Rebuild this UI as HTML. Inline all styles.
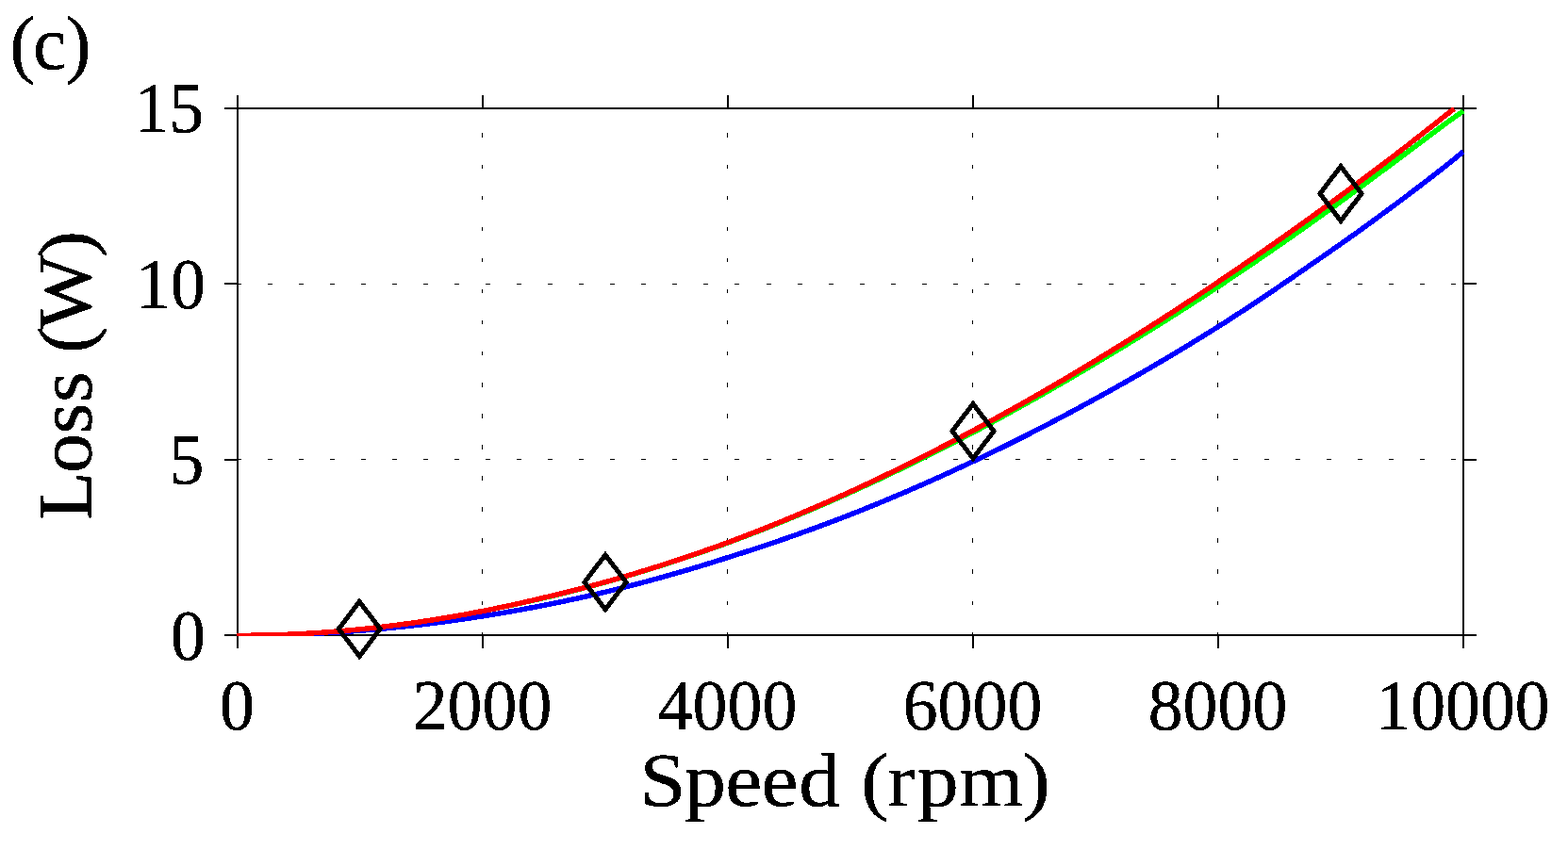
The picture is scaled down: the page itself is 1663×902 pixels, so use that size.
<!DOCTYPE html>
<html lang="en"><head><meta charset="utf-8"><title>Loss vs Speed (c)</title>
<style>
html,body{margin:0;padding:0;background:#fff;}
body{width:1663px;height:902px;overflow:hidden;}
svg{display:block;}
text{font-family:"Liberation Serif",serif;fill:#000;}
.tick{font-size:75.6px;}
.lab{font-size:80px;}
</style></head><body>
<svg width="1663" height="902" viewBox="0 0 1663 902">
<rect x="0" y="0" width="1663" height="902" fill="#fff"/>
<g shape-rendering="crispEdges" fill="#000">
<rect x="511" y="671" width="1" height="2"/>
<rect x="511" y="638" width="1" height="4"/>
<rect x="511" y="604" width="1" height="5"/>
<rect x="511" y="571" width="1" height="5"/>
<rect x="511" y="538" width="1" height="5"/>
<rect x="511" y="505" width="1" height="5"/>
<rect x="511" y="472" width="1" height="5"/>
<rect x="511" y="439" width="1" height="5"/>
<rect x="511" y="406" width="1" height="5"/>
<rect x="511" y="373" width="1" height="4"/>
<rect x="511" y="340" width="1" height="4"/>
<rect x="511" y="307" width="1" height="4"/>
<rect x="511" y="274" width="1" height="4"/>
<rect x="511" y="241" width="1" height="4"/>
<rect x="511" y="208" width="1" height="4"/>
<rect x="511" y="175" width="1" height="4"/>
<rect x="511" y="141" width="1" height="5"/>
<rect x="771" y="671" width="1" height="2"/>
<rect x="771" y="638" width="1" height="4"/>
<rect x="771" y="604" width="1" height="5"/>
<rect x="771" y="571" width="1" height="5"/>
<rect x="771" y="538" width="1" height="5"/>
<rect x="771" y="505" width="1" height="5"/>
<rect x="771" y="472" width="1" height="5"/>
<rect x="771" y="439" width="1" height="5"/>
<rect x="771" y="406" width="1" height="5"/>
<rect x="771" y="373" width="1" height="4"/>
<rect x="771" y="340" width="1" height="4"/>
<rect x="771" y="307" width="1" height="4"/>
<rect x="771" y="274" width="1" height="4"/>
<rect x="771" y="241" width="1" height="4"/>
<rect x="771" y="208" width="1" height="4"/>
<rect x="771" y="175" width="1" height="4"/>
<rect x="771" y="141" width="1" height="5"/>
<rect x="1031" y="671" width="1" height="2"/>
<rect x="1031" y="638" width="1" height="4"/>
<rect x="1031" y="604" width="1" height="5"/>
<rect x="1031" y="571" width="1" height="5"/>
<rect x="1031" y="538" width="1" height="5"/>
<rect x="1031" y="505" width="1" height="5"/>
<rect x="1031" y="472" width="1" height="5"/>
<rect x="1031" y="439" width="1" height="5"/>
<rect x="1031" y="406" width="1" height="5"/>
<rect x="1031" y="373" width="1" height="4"/>
<rect x="1031" y="340" width="1" height="4"/>
<rect x="1031" y="307" width="1" height="4"/>
<rect x="1031" y="274" width="1" height="4"/>
<rect x="1031" y="241" width="1" height="4"/>
<rect x="1031" y="208" width="1" height="4"/>
<rect x="1031" y="175" width="1" height="4"/>
<rect x="1031" y="141" width="1" height="5"/>
<rect x="1291" y="671" width="1" height="2"/>
<rect x="1291" y="638" width="1" height="4"/>
<rect x="1291" y="604" width="1" height="5"/>
<rect x="1291" y="571" width="1" height="5"/>
<rect x="1291" y="538" width="1" height="5"/>
<rect x="1291" y="505" width="1" height="5"/>
<rect x="1291" y="472" width="1" height="5"/>
<rect x="1291" y="439" width="1" height="5"/>
<rect x="1291" y="406" width="1" height="5"/>
<rect x="1291" y="373" width="1" height="4"/>
<rect x="1291" y="340" width="1" height="4"/>
<rect x="1291" y="307" width="1" height="4"/>
<rect x="1291" y="274" width="1" height="4"/>
<rect x="1291" y="241" width="1" height="4"/>
<rect x="1291" y="208" width="1" height="4"/>
<rect x="1291" y="175" width="1" height="4"/>
<rect x="1291" y="141" width="1" height="5"/>
<rect x="251" y="487" width="5" height="1"/>
<rect x="284" y="487" width="5" height="1"/>
<rect x="317" y="487" width="5" height="1"/>
<rect x="350" y="487" width="5" height="1"/>
<rect x="383" y="487" width="5" height="1"/>
<rect x="416" y="487" width="5" height="1"/>
<rect x="449" y="487" width="5" height="1"/>
<rect x="482" y="487" width="5" height="1"/>
<rect x="515" y="487" width="5" height="1"/>
<rect x="548" y="487" width="5" height="1"/>
<rect x="581" y="487" width="5" height="1"/>
<rect x="614" y="487" width="5" height="1"/>
<rect x="647" y="487" width="5" height="1"/>
<rect x="680" y="487" width="5" height="1"/>
<rect x="713" y="487" width="5" height="1"/>
<rect x="746" y="487" width="5" height="1"/>
<rect x="779" y="487" width="5" height="1"/>
<rect x="813" y="487" width="5" height="1"/>
<rect x="846" y="487" width="5" height="1"/>
<rect x="879" y="487" width="5" height="1"/>
<rect x="912" y="487" width="5" height="1"/>
<rect x="945" y="487" width="5" height="1"/>
<rect x="978" y="487" width="5" height="1"/>
<rect x="1011" y="487" width="5" height="1"/>
<rect x="1044" y="487" width="5" height="1"/>
<rect x="1077" y="487" width="5" height="1"/>
<rect x="1110" y="487" width="5" height="1"/>
<rect x="1143" y="487" width="5" height="1"/>
<rect x="1176" y="487" width="5" height="1"/>
<rect x="1209" y="487" width="5" height="1"/>
<rect x="1242" y="487" width="5" height="1"/>
<rect x="1275" y="487" width="5" height="1"/>
<rect x="1308" y="487" width="5" height="1"/>
<rect x="1341" y="487" width="5" height="1"/>
<rect x="1374" y="487" width="5" height="1"/>
<rect x="1407" y="487" width="5" height="1"/>
<rect x="1440" y="487" width="5" height="1"/>
<rect x="1473" y="487" width="5" height="1"/>
<rect x="1506" y="487" width="5" height="1"/>
<rect x="1539" y="487" width="5" height="1"/>
<rect x="251" y="301" width="5" height="1"/>
<rect x="284" y="301" width="5" height="1"/>
<rect x="317" y="301" width="5" height="1"/>
<rect x="350" y="301" width="5" height="1"/>
<rect x="383" y="301" width="5" height="1"/>
<rect x="416" y="301" width="5" height="1"/>
<rect x="449" y="301" width="5" height="1"/>
<rect x="482" y="301" width="5" height="1"/>
<rect x="515" y="301" width="5" height="1"/>
<rect x="548" y="301" width="5" height="1"/>
<rect x="581" y="301" width="5" height="1"/>
<rect x="614" y="301" width="5" height="1"/>
<rect x="647" y="301" width="5" height="1"/>
<rect x="680" y="301" width="5" height="1"/>
<rect x="713" y="301" width="5" height="1"/>
<rect x="746" y="301" width="5" height="1"/>
<rect x="779" y="301" width="5" height="1"/>
<rect x="813" y="301" width="5" height="1"/>
<rect x="846" y="301" width="5" height="1"/>
<rect x="879" y="301" width="5" height="1"/>
<rect x="912" y="301" width="5" height="1"/>
<rect x="945" y="301" width="5" height="1"/>
<rect x="978" y="301" width="5" height="1"/>
<rect x="1011" y="301" width="5" height="1"/>
<rect x="1044" y="301" width="5" height="1"/>
<rect x="1077" y="301" width="5" height="1"/>
<rect x="1110" y="301" width="5" height="1"/>
<rect x="1143" y="301" width="5" height="1"/>
<rect x="1176" y="301" width="5" height="1"/>
<rect x="1209" y="301" width="5" height="1"/>
<rect x="1242" y="301" width="5" height="1"/>
<rect x="1275" y="301" width="5" height="1"/>
<rect x="1308" y="301" width="5" height="1"/>
<rect x="1341" y="301" width="5" height="1"/>
<rect x="1374" y="301" width="5" height="1"/>
<rect x="1407" y="301" width="5" height="1"/>
<rect x="1440" y="301" width="5" height="1"/>
<rect x="1473" y="301" width="5" height="1"/>
<rect x="1506" y="301" width="5" height="1"/>
<rect x="1539" y="301" width="5" height="1"/>
<rect x="238" y="114" width="1328" height="2"/>
<rect x="238" y="673" width="1328" height="2"/>
<rect x="251" y="101" width="2" height="587"/>
<rect x="1551" y="101" width="2" height="587"/>
<rect x="511" y="101" width="2" height="13"/>
<rect x="511" y="675" width="2" height="13"/>
<rect x="771" y="101" width="2" height="13"/>
<rect x="771" y="675" width="2" height="13"/>
<rect x="1031" y="101" width="2" height="13"/>
<rect x="1031" y="675" width="2" height="13"/>
<rect x="1291" y="101" width="2" height="13"/>
<rect x="1291" y="675" width="2" height="13"/>
<rect x="238" y="487" width="13" height="2"/>
<rect x="1553" y="487" width="13" height="2"/>
<rect x="238" y="300" width="13" height="2"/>
<rect x="1553" y="300" width="13" height="2"/>
</g>
<defs><clipPath id="cp"><rect x="251" y="114" width="1302" height="561"/></clipPath></defs>
<g clip-path="url(#cp)" fill="none" stroke-width="5.5" stroke-linejoin="round" shape-rendering="crispEdges">
<path stroke="#0000ff" d="M251.00,674.35 L252.00,674.35 L258.50,674.34 L265.00,674.30 L271.50,674.23 L278.00,674.15 L284.50,674.03 L291.00,673.89 L297.50,673.72 L304.00,673.53 L310.50,673.31 L317.00,673.07 L323.50,672.80 L330.00,672.51 L336.50,672.19 L343.00,671.84 L349.50,671.47 L356.00,671.07 L362.50,670.65 L369.00,670.20 L375.50,669.73 L382.00,669.23 L388.50,668.70 L395.00,668.15 L401.50,667.57 L408.00,666.97 L414.50,666.34 L421.00,665.69 L427.50,665.01 L434.00,664.31 L440.50,663.58 L447.00,662.82 L453.50,662.04 L460.00,661.23 L466.50,660.40 L473.00,659.54 L479.50,658.66 L486.00,657.75 L492.50,656.81 L499.00,655.85 L505.50,654.87 L512.00,653.85 L518.50,652.82 L525.00,651.75 L531.50,650.66 L538.00,649.55 L544.50,648.41 L551.00,647.24 L557.50,646.05 L564.00,644.83 L570.50,643.59 L577.00,642.32 L583.50,641.03 L590.00,639.71 L596.50,638.37 L603.00,636.99 L609.50,635.60 L616.00,634.18 L622.50,632.73 L629.00,631.26 L635.50,629.76 L642.00,628.23 L648.50,626.64 L655.00,625.03 L661.50,623.39 L668.00,621.72 L674.50,620.03 L681.00,618.31 L687.50,616.56 L694.00,614.79 L700.50,613.00 L707.00,611.18 L713.50,609.33 L720.00,607.46 L726.50,605.56 L733.00,603.64 L739.50,601.69 L746.00,599.72 L752.50,597.72 L759.00,595.69 L765.50,593.64 L772.00,591.56 L778.50,589.53 L785.00,587.47 L791.50,585.39 L798.00,583.28 L804.50,581.14 L811.00,578.98 L817.50,576.80 L824.00,574.59 L830.50,572.35 L837.00,570.09 L843.50,567.80 L850.00,565.48 L856.50,563.14 L863.00,560.78 L869.50,558.39 L876.00,555.97 L882.50,553.53 L889.00,551.06 L895.50,548.57 L902.00,546.05 L908.50,543.47 L915.00,540.87 L921.50,538.24 L928.00,535.59 L934.50,532.92 L941.00,530.21 L947.50,527.48 L954.00,524.73 L960.50,521.95 L967.00,519.14 L973.50,516.31 L980.00,513.46 L986.50,510.57 L993.00,507.67 L999.50,504.73 L1006.00,501.77 L1012.50,498.79 L1019.00,495.78 L1025.50,492.74 L1032.00,489.68 L1038.50,486.59 L1045.00,483.48 L1051.50,480.34 L1058.00,477.18 L1064.50,473.99 L1071.00,470.77 L1077.50,467.53 L1084.00,464.26 L1090.50,460.97 L1097.00,457.65 L1103.50,454.31 L1110.00,450.94 L1116.50,447.55 L1123.00,444.13 L1129.50,440.68 L1136.00,437.21 L1142.50,433.71 L1149.00,430.19 L1155.50,426.64 L1162.00,423.07 L1168.50,419.49 L1175.00,415.89 L1181.50,412.26 L1188.00,408.61 L1194.50,404.94 L1201.00,401.23 L1207.50,397.50 L1214.00,393.75 L1220.50,389.97 L1227.00,386.17 L1233.50,382.33 L1240.00,378.48 L1246.50,374.60 L1253.00,370.69 L1259.50,366.75 L1266.00,362.80 L1272.50,358.81 L1279.00,354.80 L1285.50,350.76 L1292.00,346.70 L1298.50,342.53 L1305.00,338.34 L1311.50,334.11 L1318.00,329.87 L1324.50,325.59 L1331.00,321.30 L1337.50,316.97 L1344.00,312.62 L1350.50,308.25 L1357.00,303.84 L1363.50,299.42 L1370.00,294.96 L1376.50,290.49 L1383.00,285.98 L1389.50,281.45 L1396.00,276.96 L1402.50,272.48 L1409.00,267.97 L1415.50,263.44 L1422.00,258.88 L1428.50,254.30 L1435.00,249.69 L1441.50,245.04 L1448.00,240.34 L1454.50,235.61 L1461.00,230.86 L1467.50,226.08 L1474.00,221.28 L1480.50,216.45 L1487.00,211.59 L1493.50,206.70 L1500.00,201.78 L1506.50,196.83 L1513.00,191.86 L1519.50,186.86 L1526.00,181.83 L1532.50,176.72 L1539.00,171.48 L1545.50,166.22 L1552.00,160.93"/>
<path stroke="#00ff00" d="M251.00,674.35 L252.00,674.35 L258.50,674.33 L265.00,674.28 L271.50,674.20 L278.00,674.08 L284.50,673.93 L291.00,673.75 L297.50,673.54 L304.00,673.29 L310.50,673.01 L317.00,672.69 L323.50,672.35 L330.00,671.97 L336.50,671.56 L343.00,671.11 L349.50,670.63 L356.00,670.13 L362.50,669.59 L369.00,669.01 L375.50,668.41 L382.00,667.77 L388.50,667.10 L395.00,666.40 L401.50,665.67 L408.00,664.91 L414.50,664.11 L421.00,663.28 L427.50,662.42 L434.00,661.53 L440.50,660.61 L447.00,659.66 L453.50,658.68 L460.00,657.66 L466.50,656.62 L473.00,655.54 L479.50,654.43 L486.00,653.30 L492.50,652.13 L499.00,650.93 L505.50,649.70 L512.00,648.44 L518.50,647.15 L525.00,645.83 L531.50,644.49 L538.00,643.12 L544.50,641.74 L551.00,640.33 L557.50,638.89 L564.00,637.44 L570.50,635.96 L577.00,634.46 L583.50,632.94 L590.00,631.37 L596.50,629.78 L603.00,628.16 L609.50,626.51 L616.00,624.82 L622.50,623.12 L629.00,621.38 L635.50,619.61 L642.00,617.82 L648.50,615.99 L655.00,614.13 L661.50,612.25 L668.00,610.33 L674.50,608.39 L681.00,606.42 L687.50,604.42 L694.00,602.40 L700.50,600.35 L707.00,598.27 L713.50,596.16 L720.00,594.02 L726.50,591.86 L733.00,589.67 L739.50,587.45 L746.00,585.21 L752.50,582.94 L759.00,580.64 L765.50,578.32 L772.00,575.97 L778.50,573.54 L785.00,571.09 L791.50,568.62 L798.00,566.11 L804.50,563.58 L811.00,561.03 L817.50,558.45 L824.00,555.84 L830.50,553.21 L837.00,550.55 L843.50,547.86 L850.00,545.15 L856.50,542.41 L863.00,539.65 L869.50,536.87 L876.00,534.05 L882.50,531.21 L889.00,528.35 L895.50,525.46 L902.00,522.55 L908.50,519.60 L915.00,516.63 L921.50,513.63 L928.00,510.61 L934.50,507.56 L941.00,504.49 L947.50,501.39 L954.00,498.27 L960.50,495.13 L967.00,491.96 L973.50,488.76 L980.00,485.55 L986.50,482.31 L993.00,479.04 L999.50,475.75 L1006.00,472.44 L1012.50,469.10 L1019.00,465.74 L1025.50,462.36 L1032.00,458.96 L1038.50,455.50 L1045.00,452.01 L1051.50,448.51 L1058.00,444.98 L1064.50,441.43 L1071.00,437.86 L1077.50,434.26 L1084.00,430.64 L1090.50,427.00 L1097.00,423.34 L1103.50,419.65 L1110.00,415.94 L1116.50,412.21 L1123.00,408.46 L1129.50,404.68 L1136.00,400.88 L1142.50,397.07 L1149.00,393.23 L1155.50,389.36 L1162.00,385.48 L1168.50,381.61 L1175.00,377.73 L1181.50,373.82 L1188.00,369.89 L1194.50,365.94 L1201.00,361.97 L1207.50,357.98 L1214.00,353.96 L1220.50,349.93 L1227.00,345.88 L1233.50,341.80 L1240.00,337.70 L1246.50,333.59 L1253.00,329.45 L1259.50,325.30 L1266.00,321.12 L1272.50,316.92 L1279.00,312.70 L1285.50,308.47 L1292.00,304.21 L1298.50,299.88 L1305.00,295.53 L1311.50,291.16 L1318.00,286.77 L1324.50,282.36 L1331.00,277.93 L1337.50,273.48 L1344.00,269.02 L1350.50,264.53 L1357.00,260.03 L1363.50,255.50 L1370.00,250.96 L1376.50,246.40 L1383.00,241.82 L1389.50,237.22 L1396.00,232.61 L1402.50,227.96 L1409.00,223.28 L1415.50,218.58 L1422.00,213.86 L1428.50,209.13 L1435.00,204.37 L1441.50,199.60 L1448.00,194.81 L1454.50,190.00 L1461.00,185.18 L1467.50,180.34 L1474.00,175.48 L1480.50,170.60 L1487.00,165.71 L1493.50,160.88 L1500.00,156.03 L1506.50,151.17 L1513.00,146.29 L1519.50,141.39 L1526.00,136.48 L1532.50,131.66 L1539.00,127.02 L1545.50,122.36 L1552.00,117.66"/>
<path stroke="#ff0000" d="M251.00,674.35 L252.00,674.35 L258.50,674.33 L265.00,674.28 L271.50,674.20 L278.00,674.08 L284.50,673.93 L291.00,673.75 L297.50,673.54 L304.00,673.29 L310.50,673.01 L317.00,672.69 L323.50,672.35 L330.00,671.97 L336.50,671.56 L343.00,671.11 L349.50,670.63 L356.00,670.13 L362.50,669.59 L369.00,669.01 L375.50,668.41 L382.00,667.77 L388.50,667.10 L395.00,666.40 L401.50,665.67 L408.00,664.91 L414.50,664.11 L421.00,663.28 L427.50,662.42 L434.00,661.53 L440.50,660.61 L447.00,659.66 L453.50,658.68 L460.00,657.66 L466.50,656.62 L473.00,655.54 L479.50,654.43 L486.00,653.30 L492.50,652.13 L499.00,650.93 L505.50,649.70 L512.00,648.44 L518.50,647.15 L525.00,645.83 L531.50,644.48 L538.00,643.09 L544.50,641.68 L551.00,640.24 L557.50,638.77 L564.00,637.27 L570.50,635.74 L577.00,634.18 L583.50,632.66 L590.00,631.11 L596.50,629.53 L603.00,627.92 L609.50,626.29 L616.00,624.62 L622.50,622.92 L629.00,621.20 L635.50,619.44 L642.00,617.66 L648.50,615.83 L655.00,613.97 L661.50,612.08 L668.00,610.16 L674.50,608.21 L681.00,606.24 L687.50,604.24 L694.00,602.20 L700.50,600.14 L707.00,598.06 L713.50,595.94 L720.00,593.80 L726.50,591.62 L733.00,589.42 L739.50,587.20 L746.00,584.94 L752.50,582.66 L759.00,580.35 L765.50,578.01 L772.00,575.64 L778.50,573.20 L785.00,570.73 L791.50,568.23 L798.00,565.71 L804.50,563.16 L811.00,560.58 L817.50,557.97 L824.00,555.34 L830.50,552.68 L837.00,550.00 L843.50,547.29 L850.00,544.55 L856.50,541.78 L863.00,538.99 L869.50,536.17 L876.00,533.33 L882.50,530.46 L889.00,527.57 L895.50,524.64 L902.00,521.70 L908.50,518.70 L915.00,515.67 L921.50,512.62 L928.00,509.55 L934.50,506.45 L941.00,503.32 L947.50,500.17 L954.00,496.99 L960.50,493.79 L967.00,490.56 L973.50,487.31 L980.00,484.03 L986.50,480.73 L993.00,477.40 L999.50,474.05 L1006.00,470.68 L1012.50,467.28 L1019.00,463.85 L1025.50,460.40 L1032.00,456.93 L1038.50,453.43 L1045.00,449.90 L1051.50,446.36 L1058.00,442.79 L1064.50,439.19 L1071.00,435.57 L1077.50,431.93 L1084.00,428.26 L1090.50,424.57 L1097.00,420.86 L1103.50,417.12 L1110.00,413.36 L1116.50,409.58 L1123.00,405.77 L1129.50,401.94 L1136.00,398.08 L1142.50,394.21 L1149.00,390.31 L1155.50,386.38 L1162.00,382.44 L1168.50,378.49 L1175.00,374.51 L1181.50,370.51 L1188.00,366.49 L1194.50,362.45 L1201.00,358.38 L1207.50,354.29 L1214.00,350.18 L1220.50,346.05 L1227.00,341.89 L1233.50,337.72 L1240.00,333.52 L1246.50,329.30 L1253.00,325.05 L1259.50,320.79 L1266.00,316.50 L1272.50,312.20 L1279.00,307.87 L1285.50,303.52 L1292.00,299.14 L1298.50,294.76 L1305.00,290.36 L1311.50,285.93 L1318.00,281.49 L1324.50,277.02 L1331.00,272.53 L1337.50,268.02 L1344.00,263.49 L1350.50,258.94 L1357.00,254.37 L1363.50,249.78 L1370.00,245.17 L1376.50,240.54 L1383.00,235.88 L1389.50,231.21 L1396.00,226.52 L1402.50,221.81 L1409.00,217.07 L1415.50,212.32 L1422.00,207.55 L1428.50,202.76 L1435.00,197.95 L1441.50,193.11 L1448.00,188.26 L1454.50,183.39 L1461.00,178.50 L1467.50,173.60 L1474.00,168.67 L1480.50,163.72 L1487.00,158.75 L1493.50,153.69 L1500.00,148.61 L1506.50,143.52 L1513.00,138.40 L1519.50,133.26 L1526.00,128.11 L1532.50,122.96 L1539.00,117.85 L1542.23,115.30"/>
</g>
<g fill="none" stroke="#000" stroke-width="5.0" stroke-linejoin="miter" shape-rendering="crispEdges">
<path d="M381.22,638.40 L403.22,667.40 L381.22,696.40 L359.22,667.40 Z"/>
<path d="M642.00,588.80 L664.00,617.80 L642.00,646.80 L620.00,617.80 Z"/>
<path d="M1032.00,428.48 L1054.00,457.48 L1032.00,486.48 L1010.00,457.48 Z"/>
<path d="M1422.00,176.48 L1444.00,205.48 L1422.00,234.48 L1400.00,205.48 Z"/>
</g>
<defs><filter id="crisp" filterUnits="userSpaceOnUse" x="0" y="0" width="1663" height="902" color-interpolation-filters="sRGB"><feComponentTransfer><feFuncA type="discrete" tableValues="0 1 1 1"/></feComponentTransfer></filter></defs>
<g filter="url(#crisp)">
<g class="tick" text-anchor="middle">
<text transform="translate(251.50,773.50) scale(0.9760,1)" x="0" y="0">0</text>
<text transform="translate(511.50,773.50) scale(0.9760,1)" x="0" y="0">2000</text>
<text transform="translate(771.50,773.50) scale(0.9760,1)" x="0" y="0">4000</text>
<text transform="translate(1031.50,773.50) scale(0.9760,1)" x="0" y="0">6000</text>
<text transform="translate(1291.50,773.50) scale(0.9760,1)" x="0" y="0">8000</text>
<text transform="translate(1551.50,773.50) scale(0.9760,1)" x="0" y="0">10000</text>
</g>
<g class="tick" text-anchor="end">
<text transform="translate(217.80,700.40) scale(0.9760,1)" x="0" y="0">0</text>
<text transform="translate(216.40,513.40) scale(0.9760,1)" x="0" y="0">5</text>
<text transform="translate(217.80,326.90) scale(0.9760,1)" x="0" y="0">10</text>
<text transform="translate(216.20,140.10) scale(0.9760,1)" x="0" y="0">15</text>
</g>
<text class="lab" style="font-size:80px" transform="translate(0,73.20) scale(1.0000,1.0000)" x="10.61 35.00 69.65" y="0">(c)</text>
<text class="lab" style="font-size:80px" transform="translate(0,855.20) scale(1.1000,1.0000)" x="616.88 660.01 699.21 734.02 770.32 810.32 830.26 855.46 884.24 924.63 985.97" y="0">Speed (rpm)</text>
<text class="lab" style="font-size:80px" transform="translate(96.30,0) rotate(-90) scale(1.0500,1.0000)" x="-525.42 -478.14 -438.52 -406.57 -375.44 -356.93 -333.00 -259.95" y="0">Loss (W)</text>
</g>
</svg></body></html>
